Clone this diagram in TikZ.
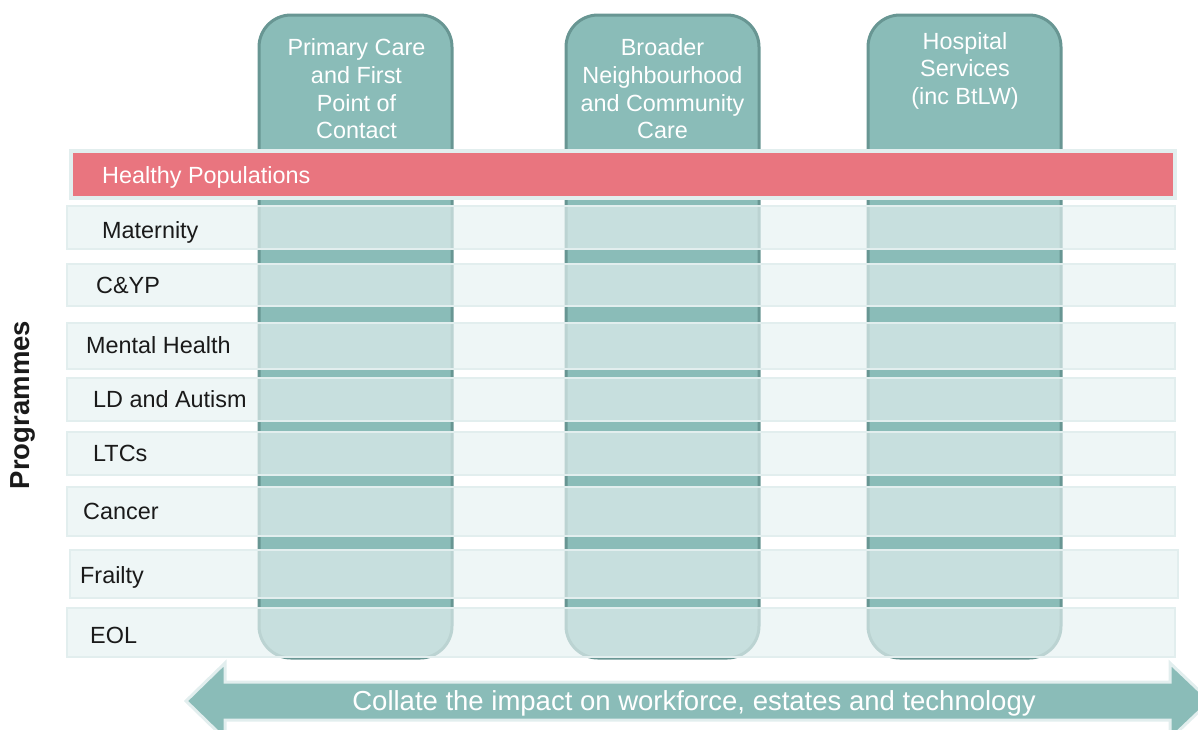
\documentclass[tikz,border=0pt]{standalone}
\usepackage{fontspec}
\setmainfont{Liberation Sans}
\begin{document}
\definecolor{tealfill}{RGB}{138,188,184}
\definecolor{tealedge}{RGB}{104,150,147}
\definecolor{rowfill}{RGB}{229,241,241}
\definecolor{rowedge}{RGB}{226,238,238}
\definecolor{pinkfill}{RGB}{233,117,127}
\definecolor{labelink}{RGB}{26,26,26}
\begin{tikzpicture}[x=1pt,y=-1pt,
  colbox/.style={draw=tealedge, line width=3pt, fill=tealfill, rounded corners=32pt,
    minimum width=193pt, minimum height=643pt, anchor=north west, inner sep=0pt, outer sep=0pt},
  coltext/.style={text=white, align=center, anchor=north, inner sep=0pt,
    font=\fontsize{23.4}{27.7}\selectfont},
  rowbox/.style={draw=rowedge, line width=2.5pt, fill=rowfill, fill opacity=0.67, draw opacity=1,
    anchor=north west, inner sep=0pt, outer sep=0pt},
  rowtext/.style={text=labelink, anchor=base west, inner sep=0pt, font=\fontsize{23.4}{27.7}\selectfont},
]
\useasboundingbox (0,0) rectangle (1198,729);
\clip (0,0) rectangle (1198,729);

% service columns
\node[colbox] (c1) at (259,15) {};
\node[colbox] (c2) at (566,15) {};
\node[colbox] (c3) at (868,15) {};
\node[coltext] (t1) at (356.5,38.5) {Primary Care\\and First\\Point of\\Contact};
\node[coltext] (t2) at (662.5,38.5) {Broader\\Neighbourhood\\and Community\\Care};
\node[coltext] (t3) at (965,32) {Hospital\\Services\\(inc BtLW)};

% programme rows
\node[draw=rowedge, line width=3.5pt, fill=pinkfill, anchor=north west, inner sep=0pt,
  minimum width=1104pt, minimum height=47pt] (hp) at (69,149) {};
\node[rowtext, text=white] (hpt) at (102,183) {Healthy Populations};

\node[rowbox, minimum width=1108pt, minimum height=43pt] (r1) at (67,206) {};
\node[rowtext] (l1) at (102,238) {Maternity};
\node[rowbox, minimum width=1108pt, minimum height=42pt] (r2) at (67,264) {};
\node[rowtext] (l2) at (96,293) {C\&YP};
\node[rowbox, minimum width=1108pt, minimum height=46pt] (r3) at (67,323) {};
\node[rowtext] (l3) at (86,353) {Mental Health};
\node[rowbox, minimum width=1108pt, minimum height=43pt] (r4) at (67,378) {};
\node[rowtext] (l4) at (93,407) {LD and Autism};
\node[rowbox, minimum width=1108pt, minimum height=43pt] (r5) at (67,432) {};
\node[rowtext] (l5) at (93,461) {LTCs};
\node[rowbox, minimum width=1108pt, minimum height=49pt] (r6) at (67,487) {};
\node[rowtext] (l6) at (83,519) {Cancer};
\node[rowbox, minimum width=1108pt, minimum height=48pt] (r7) at (70,550) {};
\node[rowtext] (l7) at (80,583) {Frailty};
\node[rowbox, minimum width=1108pt, minimum height=49pt] (r8) at (67,608) {};
\node[rowtext] (l8) at (90,643) {EOL};

% axis title
\node[rotate=90, text=labelink, inner sep=0pt, font=\fontsize{27.5}{30}\selectfont\bfseries] (prog) at (23,405) {Programmes};

% double-headed arrow along the bottom
\draw[draw=rowedge, line width=3pt, fill=tealfill, line join=miter]
  (186,701) -- (225,663) -- (225,682) -- (1170,682) -- (1170,663) -- (1210,701)
  -- (1170,739) -- (1170,720) -- (225,720) -- (225,739) -- cycle;
\node[text=white, anchor=base, inner sep=0pt, font=\fontsize{27.5}{30}\selectfont] (arr) at (694,710)
  {Collate the impact on workforce, estates and technology};
\end{tikzpicture}
\end{document}
